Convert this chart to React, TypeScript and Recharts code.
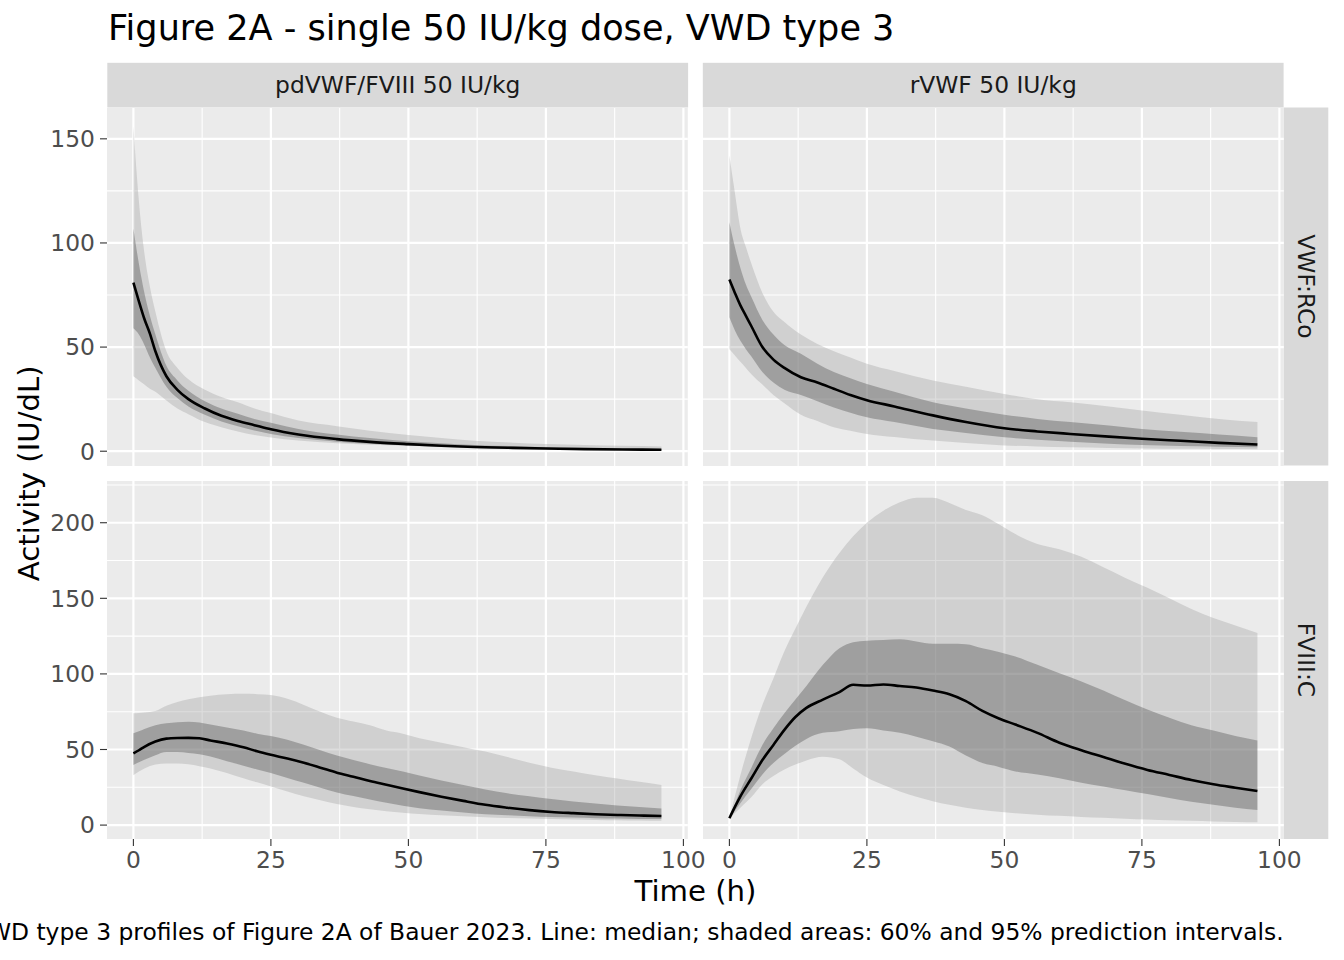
import React from 'react';
import { Area, CartesianGrid, ComposedChart, Line, XAxis, YAxis } from 'recharts';

const FONT = '"DejaVu Sans", Verdana, sans-serif';

// ---- VWF:RCo (top row) ----
const vwfTimes = [0, 1, 2, 3, 4, 6, 8, 10, 13, 16, 19, 22, 25, 30, 37, 43, 50, 56, 62, 69, 75, 82, 89, 96];

const pdRcoMedian = [81, 72, 63.5, 56.5, 48, 36, 29.5, 25, 20.5, 17, 14.5, 12.5, 10.5, 8, 5.8, 4.5, 3.4, 2.6, 2.0, 1.6, 1.3, 1.0, 0.85, 0.7];
const pdRcoLo60 = [59, 56, 51, 45, 40, 31, 25.5, 21.5, 17.5, 14.3, 12, 10, 8.3, 6.3, 4.6, 3.6, 2.8, 2.1, 1.6, 1.2, 0.95, 0.75, 0.6, 0.5];
const pdRcoHi60 = [107, 90, 76, 65, 56, 41, 34, 29, 24, 20.5, 18, 15.5, 13.7, 10.7, 8, 6.3, 4.8, 3.8, 3.0, 2.4, 1.9, 1.6, 1.3, 1.1];
const pdRcoLo95 = [36, 34, 32, 30, 28.5, 24.3, 20.5, 17.8, 14, 11.5, 9.5, 7.8, 6.6, 5.1, 3.8, 3.1, 2.6, 2.0, 1.5, 1.1, 0.85, 0.6, 0.45, 0.35];
const pdRcoHi95 = [156, 120, 95, 79, 67, 48, 40, 34.5, 29.5, 26, 23.5, 20.5, 18.3, 14.7, 12, 9.8, 7.8, 6.3, 5, 4.1, 3.5, 3.0, 2.6, 2.3];

const rRcoMedian = [82.4, 76, 70, 65, 60, 50, 44, 40, 35.5, 33, 30, 27, 24.5, 21.5, 17.2, 14, 11, 9.5, 8.3, 7, 6, 5, 4, 3.2];
const rRcoLo60 = [64.3, 58, 53, 49, 45.5, 38, 33, 29.5, 27, 24, 21, 18.5, 16.3, 14, 10.7, 8.8, 6.7, 5.5, 4.5, 3.6, 3, 2.5, 2.2, 1.9];
const rRcoHi60 = [110, 98, 88, 80, 74, 63, 56, 51, 46.8, 42, 38, 35, 32.3, 28.5, 23.5, 20.5, 17.5, 15.5, 14, 12.3, 10.7, 9.3, 8, 6.7];
const rRcoLo95 = [49, 46, 43, 40, 37, 32, 27, 23, 17.5, 14.5, 11.5, 9.8, 8.3, 6.8, 5.1, 4, 2.8, 2.3, 1.9, 1.6, 1.3, 1.2, 1.1, 1.0];
const rRcoHi95 = [142, 124, 107, 98, 90, 76, 67, 62, 56, 51.5, 48, 45, 42, 38.5, 34, 31, 27.5, 25, 23.5, 21.5, 19.5, 17.5, 15.5, 14];

// ---- FVIII:C (bottom row) ----
const fviiiTimes = [0, 1, 2, 4, 6, 8, 10, 12, 14, 17, 20, 22.5, 25, 28, 31, 34, 37, 40, 43, 46, 49, 52, 56, 60, 64, 68, 72, 76, 80, 84, 88, 92, 96];

const pdF8Median = [47.4, 49.5, 51.8, 55.3, 57.2, 57.6, 57.7, 57.4, 56, 54, 51.5, 48.8, 46.5, 44, 41.2, 38, 34.7, 32, 29.2, 26.7, 24.2, 21.8, 18.8, 16, 13.4, 11.5, 9.9, 8.7, 7.9, 7.2, 6.7, 6.3, 6.0];
const pdF8Lo60 = [39.7, 41.5, 43.2, 46.2, 48.3, 48.3, 47.7, 46.8, 45.3, 42.2, 39.3, 36.8, 34.5, 31.2, 28, 24.7, 21.6, 19.2, 17, 14.8, 12.8, 11.2, 9.6, 8.3, 7.2, 6.5, 5.9, 5.4, 5.0, 4.6, 4.3, 4.1, 4.0];
const pdF8Hi60 = [60.7, 62, 63.5, 66, 67.3, 68, 68.4, 67.8, 66.5, 64.5, 62.5, 60.5, 59, 56.5, 53.2, 49.5, 46, 43, 40.3, 37.8, 35.5, 32.8, 29.5, 26.5, 23.6, 21, 19, 17.2, 15.6, 14.2, 13, 12, 11];
const pdF8Lo95 = [33, 35.5, 37.5, 40, 40.8, 40.7, 40.2, 39, 37.5, 34.5, 31, 28.3, 25.6, 22.2, 19.1, 16.4, 13.9, 12, 10.5, 9.2, 8.2, 7.3, 6.5, 5.8, 5.2, 4.7, 4.3, 4.0, 3.7, 3.4, 3.2, 3.0, 2.8];
const pdF8Hi95 = [73.9, 74.2, 74.5, 75.5, 79, 81.5, 83.3, 84.6, 85.6, 86.5, 86.8, 86.6, 86, 83.5, 79.5, 75, 71, 68.5, 66, 62.5, 60.5, 57.5, 54.5, 51.5, 48.6, 45, 41.3, 38, 35.5, 33, 30.8, 28.6, 26.5];

const rF8Median = [4.5, 12, 19, 31, 43, 53, 63, 71.5, 77.5, 83, 88, 92.8, 92.3, 93, 92, 91, 89, 86.5, 82, 75.5, 70.5, 66.5, 61, 54.5, 49.5, 45, 40.5, 36.5, 33.2, 29.8, 27, 24.7, 22.5];
const rF8Lo60 = [4.5, 9.5, 14.5, 24, 33.5, 41, 47, 52.5, 57, 61, 62, 63.5, 64, 62.5, 61, 58.5, 55.5, 52, 46, 41, 38.5, 35.5, 33.5, 31, 28, 25.5, 23, 20.5, 18, 15.4, 13.5, 11.5, 9.9];
const rF8Hi60 = [4.5, 14, 23, 38, 53, 64, 74, 83, 92, 106, 117, 121, 122, 122.5, 123, 121.5, 120, 120, 119.7, 117, 114.5, 111.5, 106, 100.5, 95, 89, 82.5, 76.5, 71, 66, 62.5, 59, 56];
const rF8Lo95 = [4.5, 8, 11.5, 18.5, 27, 32.5, 36.7, 40, 42.8, 45.2, 43.5, 37.5, 31.5, 26.5, 22.3, 18.8, 15.8, 13.4, 11.5, 10, 8.9, 7.9, 6.9, 6.1, 5.4, 4.8, 4.2, 3.7, 3.2, 2.8, 2.4, 2.1, 1.8];
const rF8Hi95 = [4.5, 19, 33, 58, 79.5, 97, 115, 130, 144.5, 164, 180, 191, 200, 208, 213.5, 216.5, 216.5, 213, 208.5, 205, 199, 192.5, 186, 182.5, 177.5, 170.5, 163.5, 157, 150, 143, 137, 132, 127];

// ---- axes / labels ----
const xDomain = [-4.8, 100.8];
const xTicks = [0, 25, 50, 75, 100];
const xMinor = [12.5, 37.5, 62.5, 87.5];
const vwfDomain = [-7.1, 164.8];
const vwfTicks = [0, 50, 100, 150];
const vwfMinor = [25, 75, 125];
const fviiiDomain = [-9.2, 227.6];
const fviiiTicks = [0, 50, 100, 150, 200];
const fviiiMinor = [25, 75, 125, 175, 225];

const colLabels = ['pdVWF/FVIII 50 IU/kg', 'rVWF 50 IU/kg'];
const rowLabels = ['VWF:RCo', 'FVIII:C'];
const title = 'Figure 2A - single 50 IU/kg dose, VWD type 3';
const caption = 'VWD type 3 profiles of Figure 2A of Bauer 2023. Line: median; shaded areas: 60% and 95% prediction intervals.';

// layout
const PANEL_W = 580.8;
const PANEL_H = 358;
const COL_X = [107.3, 702.8];
const ROW_Y = [107.5, 481];
const AXIS_W = 100;
const AXIS_H = 60;
const PAD_R = 30;
const STRIP = 44.7;
const SMALL = 23.4;
const MID = 29.2;
const BIG = 35.1;

function buildRows(times, med, lo60, hi60, lo95, hi95) {
  return times.map((t, i) => ({ t, med: med[i], r60: [lo60[i], hi60[i]], r95: [lo95[i], hi95[i]] }));
}

const tickStyle = { fill: '#4D4D4D', fontSize: SMALL, fontFamily: FONT };
const tickLineStyle = { stroke: '#333333', strokeWidth: 1.1 };

function Panel({ rows, left, top, showX, showY, domain, ticks, minor }) {
  const ml = showY ? AXIS_W : 0;
  const mb = showX ? AXIS_H : 0;
  return (
    <div style={{ position: 'absolute', left: left - ml, top }}>
      <ComposedChart
        width={PANEL_W + ml + PAD_R}
        height={PANEL_H + mb}
        data={rows}
        margin={{ top: 0, right: PAD_R, bottom: 0, left: 0 }}
      >
        <CartesianGrid fill="#EBEBEB" stroke="#FFFFFF" strokeWidth={1.1} verticalValues={xMinor} horizontalValues={minor} />
        <CartesianGrid fill="none" stroke="#FFFFFF" strokeWidth={2.2} verticalValues={xTicks} horizontalValues={ticks} />
        <XAxis
          type="number"
          dataKey="t"
          domain={xDomain}
          ticks={xTicks}
          allowDataOverflow
          hide={!showX}
          height={AXIS_H}
          interval={0}
          tickSize={7}
          tickMargin={5}
          axisLine={false}
          tickLine={tickLineStyle}
          tick={tickStyle}
        />
        <YAxis
          type="number"
          domain={domain}
          ticks={ticks}
          allowDataOverflow
          hide={!showY}
          width={AXIS_W}
          interval={0}
          tickSize={7}
          tickMargin={5}
          axisLine={false}
          tickLine={tickLineStyle}
          tick={tickStyle}
        />
        <Area type="monotone" dataKey="r95" stroke="none" fill="#9E9E9E" fillOpacity={0.35} dot={false} activeDot={false} isAnimationActive={false} />
        <Area type="monotone" dataKey="r60" stroke="none" fill="#5A5A5A" fillOpacity={0.41} dot={false} activeDot={false} isAnimationActive={false} />
        <Line type="monotone" dataKey="med" stroke="#000000" strokeWidth={2.6} dot={false} activeDot={false} isAnimationActive={false} />
      </ComposedChart>
    </div>
  );
}

export default function App() {
  const panels = [
    { rows: buildRows(vwfTimes, pdRcoMedian, pdRcoLo60, pdRcoHi60, pdRcoLo95, pdRcoHi95), col: 0, row: 0 },
    { rows: buildRows(vwfTimes, rRcoMedian, rRcoLo60, rRcoHi60, rRcoLo95, rRcoHi95), col: 1, row: 0 },
    { rows: buildRows(fviiiTimes, pdF8Median, pdF8Lo60, pdF8Hi60, pdF8Lo95, pdF8Hi95), col: 0, row: 1 },
    { rows: buildRows(fviiiTimes, rF8Median, rF8Lo60, rF8Hi60, rF8Lo95, rF8Hi95), col: 1, row: 1 },
  ];
  const rightX = COL_X[1] + PANEL_W;
  const midY = (ROW_Y[0] + ROW_Y[1] + PANEL_H) / 2;

  return (
    <div style={{ position: 'absolute', left: 0, top: 0, width: 1344, height: 960, overflow: 'hidden', background: '#FFFFFF', fontFamily: FONT }}>
      <svg width={1344} height={960} style={{ position: 'absolute', left: 0, top: 0 }}>
        <text x={108} y={40} fontSize={BIG} fill="#000000" fontFamily={FONT}>{title}</text>
        {colLabels.map((label, i) => (
          <g key={label}>
            <rect x={COL_X[i]} y={ROW_Y[0] - STRIP} width={PANEL_W} height={STRIP} fill="#D9D9D9" />
            <text x={COL_X[i] + PANEL_W / 2} y={ROW_Y[0] - STRIP / 2} textAnchor="middle" dominantBaseline="central" fontSize={SMALL} fill="#1A1A1A" fontFamily={FONT}>{label}</text>
          </g>
        ))}
        {rowLabels.map((label, i) => (
          <g key={label}>
            <rect x={rightX} y={ROW_Y[i]} width={STRIP} height={PANEL_H} fill="#D9D9D9" />
            <text
              x={rightX + STRIP / 2}
              y={ROW_Y[i] + PANEL_H / 2}
              textAnchor="middle"
              dominantBaseline="central"
              fontSize={SMALL}
              fill="#1A1A1A"
              fontFamily={FONT}
              transform={`rotate(90 ${rightX + STRIP / 2} ${ROW_Y[i] + PANEL_H / 2})`}
            >
              {label}
            </text>
          </g>
        ))}
        <text x={(COL_X[0] + rightX) / 2} y={891} textAnchor="middle" dominantBaseline="central" fontSize={MID} fill="#000000" fontFamily={FONT}>Time (h)</text>
        <text x={29} y={midY} textAnchor="middle" dominantBaseline="central" fontSize={MID} fill="#000000" fontFamily={FONT} transform={`rotate(-90 29 ${midY})`}>Activity (IU/dL)</text>
        <text x={rightX} y={940} textAnchor="end" fontSize={SMALL} fill="#000000" fontFamily={FONT}>{caption}</text>
      </svg>
      {panels.map((p) => (
        <Panel
          key={`${p.row}-${p.col}`}
          rows={p.rows}
          left={COL_X[p.col]}
          top={ROW_Y[p.row]}
          showX={p.row === 1}
          showY={p.col === 0}
          domain={p.row === 0 ? vwfDomain : fviiiDomain}
          ticks={p.row === 0 ? vwfTicks : fviiiTicks}
          minor={p.row === 0 ? vwfMinor : fviiiMinor}
        />
      ))}
    </div>
  );
}
